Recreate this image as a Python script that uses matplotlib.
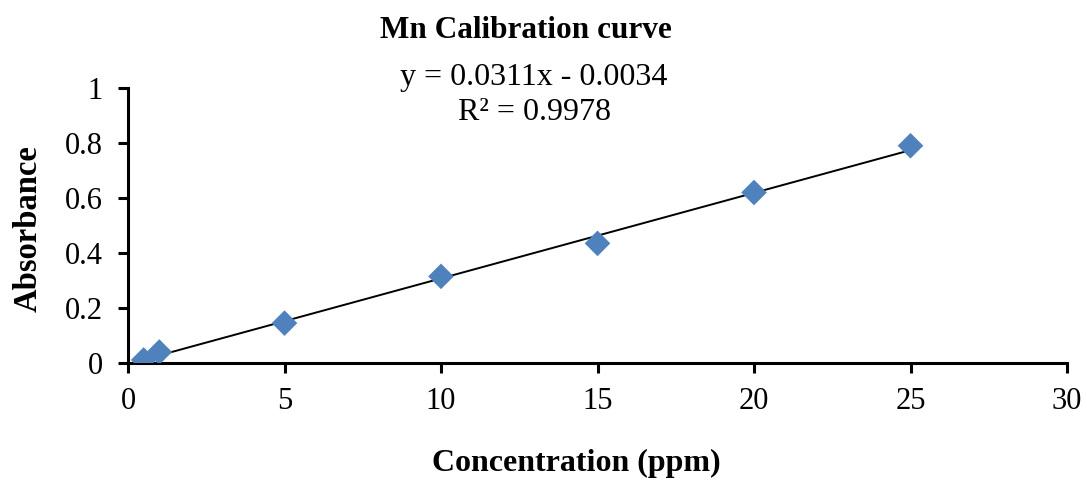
import numpy as np
import matplotlib
matplotlib.use("Agg")
import matplotlib.pyplot as plt

# Manganese standards: concentration (ppm) vs absorbance
concentration = [0.5, 1, 5, 10, 15, 20, 25]
absorbance = [0.011, 0.040, 0.145, 0.315, 0.435, 0.620, 0.790]

# Linear trendline parameters
slope = 0.0311
intercept = -0.0034
r_squared = 0.9978

x_ticks = [0, 5, 10, 15, 20, 25, 30]
y_ticks = [0, 0.2, 0.4, 0.6, 0.8, 1.0]
y_tick_labels = ["0", "0.2", "0.4", "0.6", "0.8", "1"]

plt.rcParams["font.family"] = ["Liberation Serif", "DejaVu Serif"]

W, H = 1087, 482
fig = plt.figure(figsize=(W / 100, H / 100), dpi=100)
ax = fig.add_axes([128 / W, 1 - 363 / H, (1067 - 128) / W, (363 - 88) / H])

ax.scatter(concentration, absorbance, marker="D", s=170, color="#4F81BD",
           edgecolors="none", zorder=3)

fit_x = np.array([concentration[0], concentration[-1]])
ax.plot(fit_x, slope * fit_x + intercept, color="black", lw=1.4, zorder=2)

ax.set_xlim(0, 30)
ax.set_ylim(0, 1)
ax.set_xticks(x_ticks)
ax.set_xticklabels([str(t) for t in x_ticks])
ax.set_yticks(y_ticks)
ax.set_yticklabels(y_tick_labels)

for side in ("top", "right"):
    ax.spines[side].set_visible(False)
for side in ("left", "bottom"):
    ax.spines[side].set_linewidth(2.2)
ax.tick_params(axis="both", direction="out", length=7, width=2.2, labelsize=22)
ax.tick_params(axis="x", pad=10)
ax.tick_params(axis="y", pad=11)

fig.text(576 / W, 1 - 463 / H, "Concentration (ppm)", ha="center", va="center",
         fontsize=23, fontweight="bold")
fig.text(28 / W, 1 - 229 / H, "Absorbance", ha="center", va="center",
         rotation=90, fontsize=23.5, fontweight="bold")

fig.text(526 / W, 1 - 30 / H, "Mn Calibration curve", ha="center", va="center",
         fontsize=22.5, fontweight="bold")
fig.text(534 / W, 1 - 77 / H, f"y = {slope:.4f}x - {abs(intercept):.4f}",
         ha="center", va="center", fontsize=23)
fig.text(534 / W, 1 - 113 / H, f"R² = {r_squared:.4f}", ha="center",
         va="center", fontsize=23)

fig.savefig("out.png", dpi=100)
